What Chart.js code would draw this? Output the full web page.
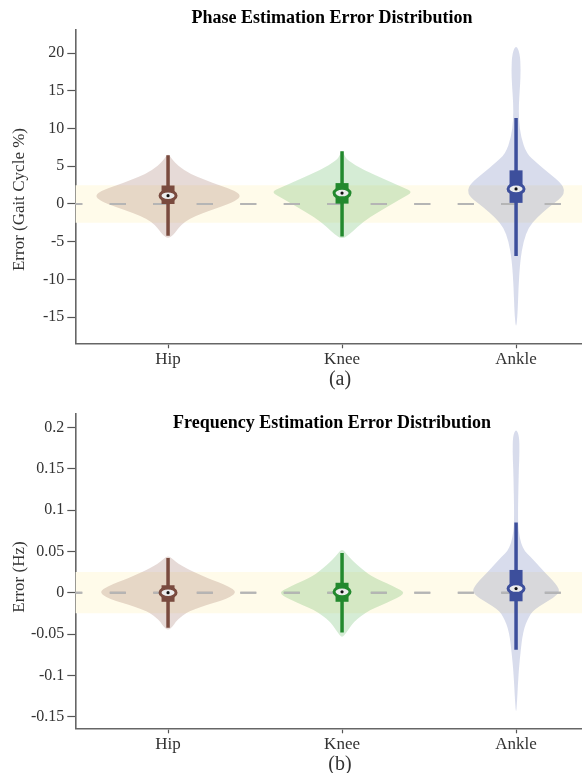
<!DOCTYPE html>
<html lang="en">
<head>
<meta charset="utf-8">
<title>Phase / frequency estimation error distribution</title>
<style>
  body { margin: 0; background: #fff; }
  canvas { display: block; }
</style>
</head>
<body>
<canvas id="phase" width="582" height="390"></canvas>
<canvas id="freq" width="582" height="383"></canvas>
<script src="https://cdn.jsdelivr.net/npm/chart.js@4.4.1/dist/chart.umd.min.js"></script>
<script>
// ---- data ----
const joints = ["Hip", "Knee", "Ankle"];

// (a) phase error, % gait cycle
const phaseTicks = [-15, -10, -5, 0, 5, 10, 15, 20];
const phaseTickLabels = ["-15", "-10", "-5", "0", "5", "10", "15", "20"];
const phaseBand = 2.5;
const phaseQ1 = [0.0, 0.05, 0.15];
const phaseQ3 = [2.45, 2.77, 4.46];
const phaseMedian = [1.1, 1.45, 2.0];
const phaseWhiskerLow = [-4.2, -4.3, -6.9];
const phaseWhiskerHigh = [6.45, 7.0, 11.4];
// violin outlines: value, half width (in category units)
const phaseHipY = [6.7, 6.0, 5.0, 4.0, 3.2, 2.46, 1.8, 1.1, 0.4, -0.4, -1.2, -2.0, -2.8, -3.5, -4.1, -4.6];
const phaseHipW = [0, 0.02, 0.06, 0.126, 0.21, 0.3, 0.38, 0.42, 0.39, 0.3, 0.2, 0.12, 0.075, 0.05, 0.03, 0];
const phaseKneeY = [7.2, 6.5, 5.8, 4.5, 3.1, 2.2, 1.6, 0.7, -0.4, -1.7, -3.1, -3.9, -4.7];
const phaseKneeW = [0, 0.012, 0.03, 0.125, 0.26, 0.35, 0.41, 0.34, 0.26, 0.16, 0.086, 0.048, 0];
const phaseAnkleY = [21.1, 20, 17.8, 15.6, 13.4, 11.1, 8.9, 6.7, 5.4, 4.1, 2.7, 1.8, 0.9, -0.4, -1.8, -3.1, -4.9, -7.5, -11, -14.6, -16.6];
const phaseAnkleW = [0, 0.022, 0.027, 0.023, 0.016, 0.016, 0.028, 0.06, 0.12, 0.19, 0.26, 0.28, 0.265, 0.19, 0.12, 0.072, 0.043, 0.024, 0.014, 0.009, 0];

// (b) frequency error, Hz
const freqTicks = [-0.15, -0.1, -0.05, 0, 0.05, 0.1, 0.15, 0.2];
const freqTickLabels = ["-0.15", "-0.1", "-0.05", "0", "0.05", "0.1", "0.15", "0.2"];
const freqBand = 0.025;
const freqQ1 = [-0.011, -0.011, -0.0104];
const freqQ3 = [0.009, 0.012, 0.0275];
const freqMedian = [0.0, 0.001, 0.005];
const freqWhiskerLow = [-0.0425, -0.048, -0.069];
const freqWhiskerHigh = [0.042, 0.048, 0.085];
const freqHipY = [0.045, 0.04, 0.035, 0.03, 0.025, 0.02, 0.015, 0.01, 0.005, 0, -0.005, -0.01, -0.015, -0.02, -0.025, -0.03, -0.035, -0.04, -0.046];
const freqHipW = [0, 0.03, 0.06, 0.1, 0.15, 0.2, 0.26, 0.32, 0.37, 0.39, 0.36, 0.3, 0.22, 0.15, 0.1, 0.07, 0.045, 0.03, 0];
const freqKneeY = [0.053, 0.047, 0.04, 0.033, 0.026, 0.02, 0.014, 0.008, 0.003, 0, -0.004, -0.009, -0.015, -0.021, -0.028, -0.035, -0.042, -0.048, -0.055];
const freqKneeW = [0, 0.025, 0.055, 0.09, 0.13, 0.17, 0.23, 0.29, 0.34, 0.355, 0.34, 0.29, 0.23, 0.16, 0.11, 0.07, 0.045, 0.025, 0];
const freqAnkleY = [0.198, 0.19, 0.17, 0.15, 0.13, 0.11, 0.09, 0.075, 0.06, 0.05, 0.044, 0.035, 0.024, 0.015, 0.007, 0.002, -0.004, -0.013, -0.02, -0.025, -0.033, -0.042, -0.055, -0.066, -0.08, -0.091, -0.11, -0.131, -0.147];
const freqAnkleW = [0, 0.018, 0.02, 0.016, 0.014, 0.012, 0.011, 0.014, 0.028, 0.05, 0.08, 0.12, 0.167, 0.21, 0.24, 0.25, 0.23, 0.16, 0.11, 0.086, 0.065, 0.048, 0.035, 0.029, 0.022, 0.017, 0.011, 0.006, 0];

// ---- styling ----
const SERIF = "'Liberation Serif', 'Times New Roman', serif";
const jointFill = ["rgba(140, 86, 75, 0.22)", "rgba(44, 160, 44, 0.2)", "rgba(60, 80, 160, 0.2)"];
const jointColor = ["#7a4b3f", "#23892e", "#3d4f9c"];
const X_MIN = 0.467, X_MAX = 3.379;

function tracePath(ctx, pts) {
  const n = pts.length;
  const mid = (a, b) => [(a[0] + b[0]) / 2, (a[1] + b[1]) / 2];
  let m = mid(pts[n - 1], pts[0]);
  ctx.moveTo(m[0], m[1]);
  for (let i = 0; i < n; i++) {
    const p = pts[i], q = pts[(i + 1) % n];
    m = mid(p, q);
    ctx.quadraticCurveTo(p[0], p[1], m[0], m[1]);
  }
  ctx.closePath();
}

const violinPlugin = {
  id: "violins",
  afterDatasetsDraw(chart, args, opts) {
    const { ctx, chartArea } = chart;
    const x = chart.scales.x, y = chart.scales.y;
    ctx.save();
    ctx.beginPath();
    ctx.rect(chartArea.left, chartArea.top, chartArea.width, chartArea.height);
    ctx.clip();
    opts.groups.forEach(function (g, i) {
      const pos = i + 1;
      const cx = x.getPixelForValue(pos);
      const pts = [];
      for (let k = 0; k < g.vals.length; k++) {
        pts.push([x.getPixelForValue(pos + g.widths[k]), y.getPixelForValue(g.vals[k])]);
      }
      for (let k = g.vals.length - 2; k > 0; k--) {
        pts.push([x.getPixelForValue(pos - g.widths[k]), y.getPixelForValue(g.vals[k])]);
      }
      ctx.beginPath();
      tracePath(ctx, pts);
      ctx.fillStyle = jointFill[i];
      ctx.fill();
    });
    chart.getDatasetMeta(0).controller.draw();
    opts.groups.forEach(function (g, i) {
      const cx = x.getPixelForValue(i + 1);
      // whisker
      ctx.beginPath();
      ctx.moveTo(cx, y.getPixelForValue(g.lo));
      ctx.lineTo(cx, y.getPixelForValue(g.hi));
      ctx.strokeStyle = jointColor[i];
      ctx.lineWidth = 3.5;
      ctx.stroke();
      // box
      const top = y.getPixelForValue(g.q3), bot = y.getPixelForValue(g.q1);
      ctx.fillStyle = jointColor[i];
      ctx.fillRect(cx - 6.5, top, 13, bot - top);
      // median marker
      const ym = y.getPixelForValue(g.med);
      ctx.beginPath();
      ctx.ellipse(cx, ym, 8, 4.8, 0, 0, Math.PI * 2);
      ctx.fillStyle = "#ececec";
      ctx.fill();
      ctx.lineWidth = 3;
      ctx.strokeStyle = jointColor[i];
      ctx.stroke();
      ctx.beginPath();
      ctx.arc(cx, ym, 1.6, 0, Math.PI * 2);
      ctx.fillStyle = "#111";
      ctx.fill();
    });
    ctx.restore();
  },
  afterDraw(chart, args, opts) {
    const ctx = chart.ctx;
    ctx.save();
    ctx.textAlign = "center";
    ctx.textBaseline = "middle";
    ctx.fillStyle = "#000";
    ctx.font = "bold 18px " + SERIF;
    ctx.fillText(opts.title, opts.titleX, opts.titleY);
    ctx.fillStyle = "#333";
    ctx.font = "20px " + SERIF;
    ctx.fillText(opts.caption, opts.captionX, opts.captionY);
    ctx.font = "17px " + SERIF;
    ctx.translate(opts.yTitleX, opts.yTitleY);
    ctx.rotate(-Math.PI / 2);
    ctx.fillText(opts.yTitle, 0, 0);
    ctx.restore();
  }
};

function flatLine(v) {
  return [{ x: X_MIN, y: v }, { x: X_MAX, y: v }];
}

function buildChart(id, o) {
  const groups = joints.map(function (j, i) {
    return {
      vals: o.shapes[i][0], widths: o.shapes[i][1],
      q1: o.q1[i], q3: o.q3[i], med: o.med[i], lo: o.lo[i], hi: o.hi[i]
    };
  });
  return new Chart(document.getElementById(id), {
    type: "scatter",
    data: {
      datasets: [
        // zero reference line (dataset 0 is drawn last, on top of the band)
        { data: flatLine(0), showLine: true, fill: false, borderColor: "#b5b5b5", borderWidth: 2,
          borderDash: [16, 27.5], borderDashOffset: 9, pointRadius: 0 },
        { data: flatLine(o.band), showLine: true, fill: "+1", backgroundColor: "#fffbea", borderWidth: 0, pointRadius: 0 },
        { data: flatLine(-o.band), showLine: true, fill: false, borderWidth: 0, pointRadius: 0 }
      ]
    },
    plugins: [violinPlugin],
    options: {
      responsive: false,
      animation: false,
      events: [],
      layout: { padding: { top: o.padTop, left: 0, right: 0, bottom: 0 } },
      plugins: {
        legend: { display: false },
        tooltip: { enabled: false },
        violins: {
          groups: groups,
          title: o.title, titleX: 332, titleY: o.titleY,
          caption: o.caption, captionX: 340, captionY: o.captionY,
          yTitle: o.yTitle, yTitleX: 19.5, yTitleY: o.yTitleY
        }
      },
      scales: {
        x: {
          type: "linear", min: X_MIN, max: X_MAX,
          afterBuildTicks: function (s) { s.ticks = joints.map(function (_, i) { return { value: i + 1 }; }); },
          afterFit: function (s) { s.height = o.xHeight; },
          ticks: {
            padding: 1, color: "#333", font: { family: SERIF, size: 17 },
            callback: function (v) { return joints[Math.round(v) - 1]; }
          },
          grid: { drawOnChartArea: false, tickLength: 5, tickColor: "#555", tickWidth: 1.2 },
          border: { display: true, color: "#666", width: 1.6 }
        },
        y: {
          min: o.yMin, max: o.yMax,
          afterBuildTicks: function (s) { s.ticks = o.ticks.map(function (v) { return { value: v }; }); },
          afterFit: function (s) { s.width = 75.3; },
          ticks: {
            padding: 3, color: "#333", font: { family: SERIF, size: 16 },
            callback: function (v, i) { return o.tickLabels[i]; }
          },
          grid: { drawOnChartArea: false, tickLength: 8, tickColor: "#555", tickWidth: 1.2 },
          border: { display: true, color: "#666", width: 1.6 }
        }
      }
    }
  });
}

buildChart("phase", {
  title: "Phase Estimation Error Distribution", titleY: 18.5,
  caption: "(a)", captionY: 380,
  yTitle: "Error (Gait Cycle %)", yTitleY: 199.5,
  padTop: 30, xHeight: 46.7,
  yMin: -18.47, yMax: 23.07,
  ticks: phaseTicks, tickLabels: phaseTickLabels, band: phaseBand,
  q1: phaseQ1, q3: phaseQ3, med: phaseMedian, lo: phaseWhiskerLow, hi: phaseWhiskerHigh,
  shapes: [[phaseHipY, phaseHipW], [phaseKneeY, phaseKneeW], [phaseAnkleY, phaseAnkleW]]
});

buildChart("freq", {
  title: "Frequency Estimation Error Distribution", titleY: 33.5,
  caption: "(b)", captionY: 375,
  yTitle: "Error (Hz)", yTitleY: 187,
  padTop: 24, xHeight: 44.7,
  yMin: -0.164, yMax: 0.2161,
  ticks: freqTicks, tickLabels: freqTickLabels, band: freqBand,
  q1: freqQ1, q3: freqQ3, med: freqMedian, lo: freqWhiskerLow, hi: freqWhiskerHigh,
  shapes: [[freqHipY, freqHipW], [freqKneeY, freqKneeW], [freqAnkleY, freqAnkleW]]
});
</script>
</body>
</html>
